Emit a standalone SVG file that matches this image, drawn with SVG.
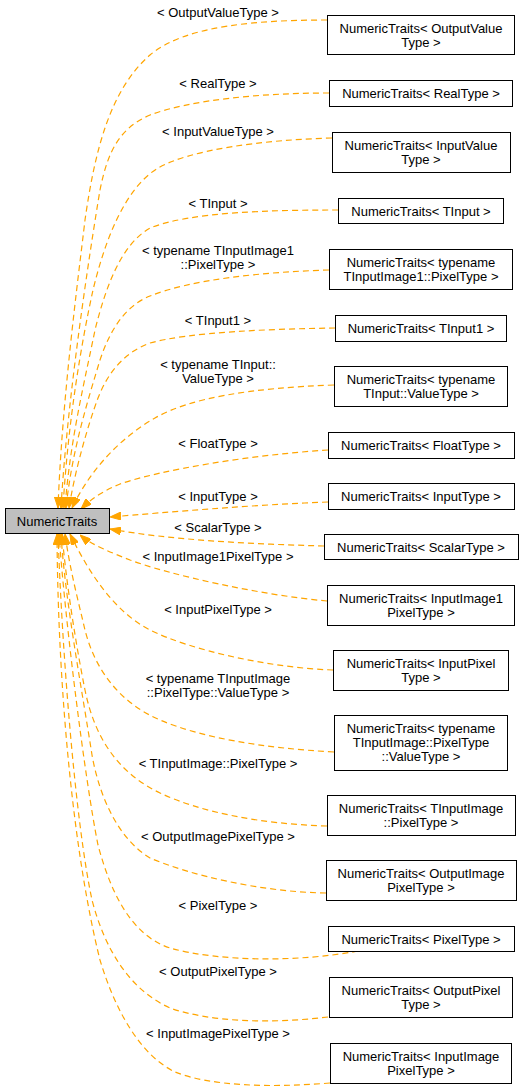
<svg xmlns="http://www.w3.org/2000/svg" width="525" height="1092" viewBox="0 0 525 1092">
<style>
text{font-family:"Liberation Sans",Arial,sans-serif;font-size:13px;fill:#000;text-anchor:middle}
.n rect{fill:#fff;stroke:#000;stroke-width:1}
.b rect{fill:#bfbfbf;stroke:#000;stroke-width:1}
.e path{fill:none;stroke:#ffa500;stroke-width:1.2;stroke-dasharray:6,4;marker-end:url(#ah)}
</style>
<defs>
<marker id="ah" markerUnits="userSpaceOnUse" viewBox="0 0 11 8" markerWidth="11" markerHeight="8" refX="11" refY="4" orient="auto">
<path d="M0,0 L11,4 L0,8 z" fill="#ffa500" stroke="#ffa500" stroke-width="1" stroke-dasharray="none"/>
</marker>
</defs>
<rect width="525" height="1092" fill="#fff"/>
<g id="edges" class="e">
<path d="M327,20 C260,20 185,25 150,55 C110,90 95,150 85,220 C78,280 62,400 58,508"/>
<path d="M329,93 C260,93 190,100 150,115 C120,128 108,150 100,190 C90,250 67,400 61,508"/>
<path d="M332,138 C260,140 190,150 158,168 C125,188 105,240 93,290 C82,340 68,420 63,508"/>
<path d="M338,210 C270,210 190,212 150,228 C120,245 105,290 95,330 C85,380 70,440 65,508"/>
<path d="M329,270 C260,272 190,280 150,296 C125,306 110,330 100,360 C88,400 72,450 66,508"/>
<path d="M335,328 C270,329 190,332 150,343 C125,352 108,372 98,398 C88,425 75,470 69,508"/>
<path d="M334,385 C250,388 190,398 155,418 C120,438 90,470 72,508"/>
<path d="M328,450 C250,455 160,470 120,484 C105,490 92,498 81,509"/>
<path d="M328,502 C250,505 170,512 110,517"/>
<path d="M324,546 C250,544 170,540 110,529"/>
<path d="M327,601 C260,595 170,575 130,560 C110,552 92,545 80,535"/>
<path d="M333,670 C270,668 190,650 150,630 C115,612 90,575 70,534"/>
<path d="M334,752 C260,748 200,737 160,720 C120,703 95,670 85,630 C78,600 70,570 65,534"/>
<path d="M327,826 C260,824 200,812 160,793 C120,774 95,740 85,690 C75,640 66,580 62,534"/>
<path d="M326,893 C260,892 190,875 150,858 C120,840 100,800 92,755 C82,690 65,600 61,534"/>
<path d="M358,951 C300,962 220,962 170,948 C130,935 110,890 98,845 C85,780 65,620 59,534"/>
<path d="M328,1017 C270,1024 210,1022 170,1008 C130,990 105,950 92,900 C75,820 62,650 58,534"/>
<path d="M330,1083 C270,1088 210,1086 175,1072 C140,1055 115,1010 100,960 C75,860 58,700 57,534"/>
</g>
<g id="labels">
<text x="218" y="16.5">&lt; OutputValueType &gt;</text>
<text x="218" y="87.5">&lt; RealType &gt;</text>
<text x="218" y="135.5">&lt; InputValueType &gt;</text>
<text x="218" y="207.5">&lt; TInput &gt;</text>
<text x="218" y="255">&lt; typename TInputImage1</text>
<text x="218" y="268.5">::PixelType &gt;</text>
<text x="218" y="324.5">&lt; TInput1 &gt;</text>
<text x="218" y="368.5">&lt; typename TInput::</text>
<text x="218" y="382.5">ValueType &gt;</text>
<text x="218" y="447.5">&lt; FloatType &gt;</text>
<text x="218" y="500.5">&lt; InputType &gt;</text>
<text x="218" y="531.5">&lt; ScalarType &gt;</text>
<text x="218" y="560.5">&lt; InputImage1PixelType &gt;</text>
<text x="218" y="613.5">&lt; InputPixelType &gt;</text>
<text x="218" y="682.5">&lt; typename TInputImage</text>
<text x="218" y="697">::PixelType::ValueType &gt;</text>
<text x="218" y="767.5">&lt; TInputImage::PixelType &gt;</text>
<text x="218" y="840.5">&lt; OutputImagePixelType &gt;</text>
<text x="218" y="909.5">&lt; PixelType &gt;</text>
<text x="218" y="975.5">&lt; OutputPixelType &gt;</text>
<text x="218" y="1037.5">&lt; InputImagePixelType &gt;</text>
</g>
<g id="base" class="b"><rect x="5.5" y="508.5" width="104" height="25"/><text x="57" y="525.5">NumericTraits</text></g>
<g id="n1" class="n"><rect x="327.5" y="15.5" width="187" height="39"/><text x="421" y="32.5">NumericTraits&lt; OutputValue</text><text x="421" y="46.5">Type &gt;</text></g>
<g id="n2" class="n"><rect x="329.5" y="80.5" width="183" height="26"/><text x="421" y="98">NumericTraits&lt; RealType &gt;</text></g>
<g id="n3" class="n"><rect x="332.5" y="132.5" width="178" height="40"/><text x="421" y="150">NumericTraits&lt; InputValue</text><text x="421" y="164">Type &gt;</text></g>
<g id="n4" class="n"><rect x="338.5" y="198.5" width="165" height="25"/><text x="421" y="215.5">NumericTraits&lt; TInput &gt;</text></g>
<g id="n5" class="n"><rect x="329.5" y="249.5" width="183" height="40"/><text x="421" y="267">NumericTraits&lt; typename</text><text x="421" y="281">TInputImage1::PixelType &gt;</text></g>
<g id="n6" class="n"><rect x="335.5" y="315.5" width="171" height="26"/><text x="421" y="333">NumericTraits&lt; TInput1 &gt;</text></g>
<g id="n7" class="n"><rect x="334.5" y="366.5" width="173" height="40"/><text x="421" y="384">NumericTraits&lt; typename</text><text x="421" y="398">TInput::ValueType &gt;</text></g>
<g id="n8" class="n"><rect x="328.5" y="432.5" width="186" height="26"/><text x="421" y="450">NumericTraits&lt; FloatType &gt;</text></g>
<g id="n9" class="n"><rect x="328.5" y="483.5" width="186" height="26"/><text x="421" y="501">NumericTraits&lt; InputType &gt;</text></g>
<g id="n10" class="n"><rect x="324.5" y="534.5" width="194" height="25"/><text x="421" y="551.5">NumericTraits&lt; ScalarType &gt;</text></g>
<g id="n11" class="n"><rect x="327.5" y="585.5" width="187" height="40"/><text x="421" y="603">NumericTraits&lt; InputImage1</text><text x="421" y="617">PixelType &gt;</text></g>
<g id="n12" class="n"><rect x="333.5" y="650.5" width="175" height="40"/><text x="421" y="668">NumericTraits&lt; InputPixel</text><text x="421" y="682">Type &gt;</text></g>
<g id="n13" class="n"><rect x="334.5" y="715.5" width="173" height="55"/><text x="421" y="732.5">NumericTraits&lt; typename</text><text x="421" y="746.5">TInputImage::PixelType</text><text x="421" y="760.5">::ValueType &gt;</text></g>
<g id="n14" class="n"><rect x="327.5" y="795.5" width="188" height="40"/><text x="421" y="813">NumericTraits&lt; TInputImage</text><text x="421" y="827">::PixelType &gt;</text></g>
<g id="n15" class="n"><rect x="326.5" y="860.5" width="190" height="40"/><text x="421" y="878">NumericTraits&lt; OutputImage</text><text x="421" y="892">PixelType &gt;</text></g>
<g id="n16" class="n"><rect x="328.5" y="926.5" width="186" height="25"/><text x="421" y="943.5">NumericTraits&lt; PixelType &gt;</text></g>
<g id="n17" class="n"><rect x="329.5" y="977.5" width="183" height="40"/><text x="421" y="995">NumericTraits&lt; OutputPixel</text><text x="421" y="1009">Type &gt;</text></g>
<g id="n18" class="n"><rect x="330.5" y="1043.5" width="181" height="40"/><text x="421" y="1061">NumericTraits&lt; InputImage</text><text x="421" y="1075">PixelType &gt;</text></g>
</svg>
